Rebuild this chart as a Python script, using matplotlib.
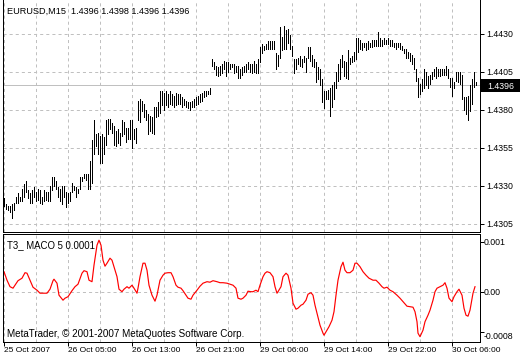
import numpy as np
import matplotlib
matplotlib.use("Agg")
import matplotlib.pyplot as plt
from matplotlib.patches import Rectangle
from matplotlib.transforms import blended_transform_factory

plt.rcParams['font.family'] = ['Liberation Sans', 'DejaVu Sans']
plt.rcParams['lines.scale_dashes'] = False

# EURUSD M15 bars (high / low), one per bar
highs = [1.4322, 1.4318, 1.4317, 1.4317, 1.4318, 1.4319, 1.4323, 1.4325, 1.4323, 1.4328,
         1.4331, 1.4333, 1.4327, 1.4325, 1.4327, 1.4329, 1.4326, 1.4328, 1.4327, 1.4323,
         1.4327, 1.4326, 1.4326, 1.4330, 1.4336, 1.4336, 1.4333, 1.4329, 1.4328, 1.4330,
         1.4330, 1.4326, 1.4325, 1.4326, 1.4332, 1.4330, 1.4329, 1.4328, 1.4336, 1.4336,
         1.4338, 1.4338, 1.4338, 1.4346, 1.4360, 1.4373, 1.4364, 1.4365, 1.4363, 1.4364,
         1.4362, 1.4373, 1.4374, 1.4374, 1.4371, 1.4369, 1.4366, 1.4367, 1.4365, 1.4373,
         1.4372, 1.4368, 1.4368, 1.4373, 1.4373, 1.4367, 1.4368, 1.4386, 1.4387, 1.4386,
         1.4384, 1.4380, 1.4377, 1.4376, 1.4375, 1.4382, 1.4382, 1.4385, 1.4392, 1.4392,
         1.4391, 1.4392, 1.4390, 1.4392, 1.4390, 1.4389, 1.4391, 1.4390, 1.4390, 1.4388,
         1.4387, 1.4386, 1.4385, 1.4385, 1.4386, 1.4387, 1.4388, 1.4389, 1.4390, 1.4391,
         1.4392, 1.4392, 1.4392, 1.4394, 1.4413, 1.4411, 1.4409, 1.4408, 1.4409, 1.4410,
         1.4412, 1.4411, 1.4411, 1.4410, 1.4410, 1.4410, 1.4409, 1.4409, 1.4407, 1.4408,
         1.4409, 1.4410, 1.4411, 1.4410, 1.4410, 1.4412, 1.4410, 1.4413, 1.4421, 1.4423,
         1.4422, 1.4423, 1.4425, 1.4425, 1.4425, 1.4425, 1.4417, 1.4416, 1.4434, 1.4428,
         1.4435, 1.4432, 1.4433, 1.4429, 1.4422, 1.4413, 1.4413, 1.4414, 1.4415, 1.4413,
         1.4415, 1.4414, 1.4421, 1.4421, 1.4416, 1.4413, 1.4411, 1.4408, 1.4407, 1.4400,
         1.4392, 1.4392, 1.4393, 1.4394, 1.4396, 1.4398, 1.4405, 1.4410, 1.4413, 1.4416,
         1.4412, 1.4411, 1.4419, 1.4414, 1.4415, 1.4418, 1.4427, 1.4427, 1.4426, 1.4424,
         1.4424, 1.4424, 1.4425, 1.4424, 1.4426, 1.4426, 1.4426, 1.4431, 1.4427, 1.4426,
         1.4427, 1.4426, 1.4427, 1.4426, 1.4426, 1.4424, 1.4424, 1.4424, 1.4424, 1.4422,
         1.4420, 1.4420, 1.4418, 1.4417, 1.4416, 1.4414, 1.4407, 1.4401, 1.4397, 1.4400,
         1.4407, 1.4405, 1.4402, 1.4403, 1.4405, 1.4407, 1.4408, 1.4407, 1.4407, 1.4407,
         1.4407, 1.4409, 1.4407, 1.4401, 1.4401, 1.4398, 1.4405, 1.4405, 1.4405, 1.4403,
         1.4388, 1.4388, 1.4389, 1.4396, 1.4400, 1.4405, 1.4398]
lows = [1.4317, 1.4315, 1.4314, 1.4313, 1.4309, 1.4314, 1.4319, 1.4319, 1.4320, 1.4320,
        1.4323, 1.4326, 1.4322, 1.4319, 1.4319, 1.4323, 1.4320, 1.4321, 1.4319, 1.4318,
        1.4320, 1.4321, 1.4320, 1.4320, 1.4327, 1.4330, 1.4328, 1.4323, 1.4320, 1.4318,
        1.4323, 1.4316, 1.4319, 1.4320, 1.4326, 1.4327, 1.4323, 1.4325, 1.4328, 1.4333,
        1.4335, 1.4334, 1.4328, 1.4328, 1.4332, 1.4351, 1.4356, 1.4351, 1.4345, 1.4345,
        1.4351, 1.4357, 1.4364, 1.4367, 1.4365, 1.4357, 1.4356, 1.4358, 1.4357, 1.4363,
        1.4364, 1.4359, 1.4361, 1.4361, 1.4355, 1.4361, 1.4358, 1.4373, 1.4372, 1.4379,
        1.4375, 1.4373, 1.4364, 1.4366, 1.4365, 1.4364, 1.4375, 1.4376, 1.4378, 1.4383,
        1.4380, 1.4383, 1.4382, 1.4384, 1.4383, 1.4382, 1.4383, 1.4384, 1.4384, 1.4382,
        1.4383, 1.4382, 1.4381, 1.4380, 1.4382, 1.4382, 1.4383, 1.4384, 1.4385, 1.4386,
        1.4388, 1.4389, 1.4390, 1.4390, 1.4409, 1.4407, 1.4403, 1.4402, 1.4403, 1.4404,
        1.4407, 1.4402, 1.4405, 1.4407, 1.4408, 1.4404, 1.4405, 1.4401, 1.4401, 1.4403,
        1.4405, 1.4405, 1.4407, 1.4405, 1.4404, 1.4405, 1.4404, 1.4404, 1.4411, 1.4417,
        1.4419, 1.4420, 1.4420, 1.4420, 1.4420, 1.4420, 1.4407, 1.4409, 1.4414, 1.4419,
        1.4420, 1.4420, 1.4424, 1.4420, 1.4415, 1.4404, 1.4407, 1.4410, 1.4409, 1.4408,
        1.4411, 1.4405, 1.4414, 1.4412, 1.4409, 1.4408, 1.4398, 1.4400, 1.4396, 1.4385,
        1.4381, 1.4387, 1.4387, 1.4376, 1.4382, 1.4387, 1.4394, 1.4399, 1.4400, 1.4408,
        1.4402, 1.4401, 1.4400, 1.4410, 1.4411, 1.4412, 1.4413, 1.4418, 1.4420, 1.4419,
        1.4421, 1.4419, 1.4420, 1.4421, 1.4421, 1.4422, 1.4422, 1.4422, 1.4422, 1.4422,
        1.4423, 1.4423, 1.4423, 1.4422, 1.4422, 1.4421, 1.4420, 1.4421, 1.4420, 1.4419,
        1.4417, 1.4414, 1.4414, 1.4412, 1.4410, 1.4407, 1.4399, 1.4388, 1.4390, 1.4392,
        1.4394, 1.4396, 1.4394, 1.4397, 1.4400, 1.4402, 1.4401, 1.4402, 1.4402, 1.4403,
        1.4403, 1.4403, 1.4401, 1.4395, 1.4389, 1.4394, 1.4399, 1.4398, 1.4397, 1.4387,
        1.4380, 1.4377, 1.4373, 1.4379, 1.4384, 1.4395, 1.4396]

# T3_ MACO indicator, sampled at bar positions
ind_bar = [0, 1.5, 3, 4.5, 5.5, 7, 9, 10.5, 11.5, 13, 14.5, 16.5, 18, 19.5, 21.5, 23, 24.5,
           25, 26.5, 27.5, 29.5, 30.5, 32, 34, 35.5, 37, 39, 40, 41.5, 42.5, 44, 45, 46.5,
           47.5, 48.5, 49.5, 50.5, 51.5, 53, 54, 55, 56.5, 57.5, 59, 60, 61.5, 62.5, 64, 65,
           66.5, 67, 68, 69.5, 70.5, 71.5, 72.5, 74, 75.5, 76.5, 78, 79.5, 80.5, 82, 83.5,
           84.5, 86, 87, 88.5, 89.5, 91, 92, 93.5, 94.5, 96.5, 98, 99.5, 101.5, 103, 104.5,
           106.5, 108, 109.5, 111.5, 113, 114.5, 116, 117, 118.5, 119.5, 121, 122, 123.5,
           124.5, 126, 127, 128, 129.5, 130.5, 131.5, 133, 134.5, 135.5, 136.5, 137, 138.5,
           139.5, 141, 142, 143.5, 144.5, 146, 147, 148.5, 149.5, 151, 152, 153.5, 154.5,
           155.5, 156.5, 158, 159.5, 160, 161.5, 162.5, 164, 165, 166, 167, 168.5, 169.5,
           170.5, 171.5, 173, 174.5, 175.5, 176.5, 178, 179.5, 181, 182.5, 184.5, 186, 187.5,
           189, 190, 191.5, 193, 194.5, 196.5, 198, 199.5, 201.5, 203, 204.5, 205.5, 206.5,
           207, 208, 209.5, 210.5, 212, 213, 214.5, 215.5, 216.5, 218, 219.5, 220.5, 221.5,
           222.5, 224, 225, 226.5, 227.5, 229, 230, 231, 232, 233, 234.5, 235.5]
ind_val = [0.00040, 0.00023, 0.00010, 0.00007, 0.00013, 0.00022, 0.00027, 0.00038, 0.00037,
           0.00023, 0.00009, 0.00003, -0.00003, -0.00003, -0.00003, 0.00005, 0.00022, 0.00025,
           0.00017, -0.00007, -0.00017, -0.00013, -0.00010, 0.00002, 0.00010, 0.00015, 0.00037,
           0.00042, 0.00040, 0.00023, 0.00020, 0.00053, 0.00093, 0.00103, 0.00093, 0.00063,
           0.00051, 0.00057, 0.00067, 0.00063, 0.00050, 0.00030, 0.00005, 0.00000, 0.00005,
           0.00010, 0.00007, 0.00013, 0.00007, -0.00003, 0.00007, 0.00030, 0.00057, 0.00057,
           0.00043, 0.00013, -0.00007, -0.00019, -0.00007, 0.00023, 0.00033, 0.00037, 0.00038,
           0.00038, 0.00030, 0.00013, 0.00009, 0.00007, 0.00002, -0.00007, -0.00013, -0.00015,
           -0.00007, 0.00003, 0.00011, 0.00017, 0.00020, 0.00019, 0.00022, 0.00020, 0.00018,
           0.00018, 0.00017, 0.00015, 0.00013, 0.00007, -0.00013, -0.00015, -0.00013, -0.00007,
           0.00001, 0.00000, 0.00000, 0.00003, 0.00000, 0.00013, 0.00030, 0.00037, 0.00040,
           0.00038, 0.00030, 0.00010, -0.00003, 0.00000, 0.00010, 0.00030, 0.00037, 0.00033,
           0.00007, -0.00023, -0.00035, -0.00033, -0.00027, -0.00025, -0.00017, -0.00005,
           -0.00002, -0.00007, -0.00027, -0.00043, -0.00067, -0.00083, -0.00087, -0.00077,
           -0.00070, -0.00057, -0.00040, -0.00007, 0.00023, 0.00050, 0.00059, 0.00043, 0.00038,
           0.00038, 0.00043, 0.00057, 0.00057, 0.00050, 0.00040, 0.00033, 0.00027, 0.00023,
           0.00023, 0.00017, 0.00010, 0.00007, 0.00009, 0.00003, 0.00000, -0.00007, -0.00013,
           -0.00020, -0.00029, -0.00030, -0.00031, -0.00040, -0.00060, -0.00083, -0.00090,
           -0.00077, -0.00060, -0.00047, -0.00037, -0.00017, 0.00000, 0.00007, 0.00010, 0.00013,
           0.00018, 0.00007, -0.00013, -0.00020, -0.00010, 0.00000, 0.00005, -0.00007, -0.00033,
           -0.00047, -0.00049, -0.00037, -0.00003, 0.00010]

price_ticks = [1.4305, 1.4330, 1.4355, 1.4380, 1.4405, 1.4430]
ind_ticks = [0.001, 0.0, -0.0008]
ind_tick_labels = ['0.001', '0.00', '-0.0008']
time_labels = ['25 Oct 2007', '26 Oct 05:00', '26 Oct 13:00', '26 Oct 21:00',
               '29 Oct 06:00', '29 Oct 14:00', '29 Oct 22:00', '30 Oct 06:00']
last_price = 1.4396
title = 'EURUSD,M15  1.4396 1.4398 1.4396 1.4396'
ind_name = 'T3_ MACO 5 0.0001'

W, H = 520, 360
PX = 0.72  # one pixel, in points
GRID = '#c0c0c0'
DASH = (0, (2.2, 2.2))

fig = plt.figure(figsize=(W / 100, H / 100), dpi=100)


def box(x0, y0, x1, y1):
    return [x0 / W, 1 - y1 / H, (x1 - x0) / W, (y1 - y0) / H]


ax = fig.add_axes(box(2.5, 0, 480.5, 231.7))
ax2 = fig.add_axes(box(2.5, 234, 480.5, 341.7))

for a in (ax, ax2):
    a.set_xlim(-0.75, 238.25)
    a.set_xticks(np.arange(0, 238, 32))
    a.set_xticks(np.arange(16, 238, 32), minor=True)
    a.grid(True, which='both', axis='x', color=GRID, linestyle=DASH, linewidth=PX)
    a.set_axisbelow(True)
    for s in a.spines.values():
        s.set_linewidth(PX)
        s.set_color('black')
    a.yaxis.tick_right()
    a.tick_params(axis='y', length=2.6, width=PX, pad=1.8, labelsize=6.3)
ax.spines['top'].set_visible(False)

# price panel
ax.set_ylim(1.42999, 1.44520)
ax.set_yticks(price_ticks)
ax.set_yticklabels(['%.4f' % p for p in price_ticks])
ax.grid(True, axis='y', color=GRID, linestyle=DASH, linewidth=PX)
ax.tick_params(axis='x', which='both', length=0, labelbottom=False)
ax.axhline(last_price, color=GRID, linewidth=PX, zorder=1)
bars = np.arange(len(highs))
ax.vlines(bars, lows, highs, colors='black', linewidth=PX, snap=True,
          antialiased=False, zorder=3)

# last price marker on the price scale
blend = blended_transform_factory(ax.transAxes, ax.transData)
px_price = (1.44520 - 1.42999) / 231.7
ax.add_patch(Rectangle((1 + 0.7 / 478, last_price - 6.5 * px_price), 39 / 478, 13 * px_price,
                       transform=blend, facecolor='black', edgecolor='none', clip_on=False))
ax.text(1 + 20 / 478, last_price, '%.4f' % last_price, transform=blend, color='white',
        ha='center', va='center_baseline', fontsize=6.3)

# indicator panel
ax2.set_ylim(-0.001, 0.001154)
ax2.axhline(0, color=GRID, linestyle=DASH, linewidth=PX, zorder=0)
ax2.plot(ind_bar, ind_val, color='#ff0000', linewidth=0.85)
ax2.set_yticks(ind_ticks)
ax2.set_yticklabels([])
for v, lab in zip(ind_ticks, ind_tick_labels):
    dy = -3 if v < 0 else 0
    ax2.annotate(lab, xy=(1, v), xycoords=('axes fraction', 'data'), xytext=(2.2, dy),
                 textcoords='offset points', ha='left', va='center_baseline', fontsize=6.3,
                 annotation_clip=False)
ax2.set_xticklabels(time_labels, ha='left', fontsize=6.0)
ax2.tick_params(axis='x', which='major', length=3, width=PX, pad=0.5)
ax2.tick_params(axis='x', which='minor', length=0)

fig.text(7 / W, 1 - 14 / H, title, fontsize=6.6, va='baseline')
fig.text(7 / W, 1 - 248 / H, ind_name, fontsize=6.9, va='baseline')
fig.text(7 / W, 1 - 337 / H, 'MetaTrader, \u00a9 2001-2007 MetaQuotes Software Corp.',
         fontsize=7.1, va='baseline')

fig.savefig('out.png', dpi=100)
